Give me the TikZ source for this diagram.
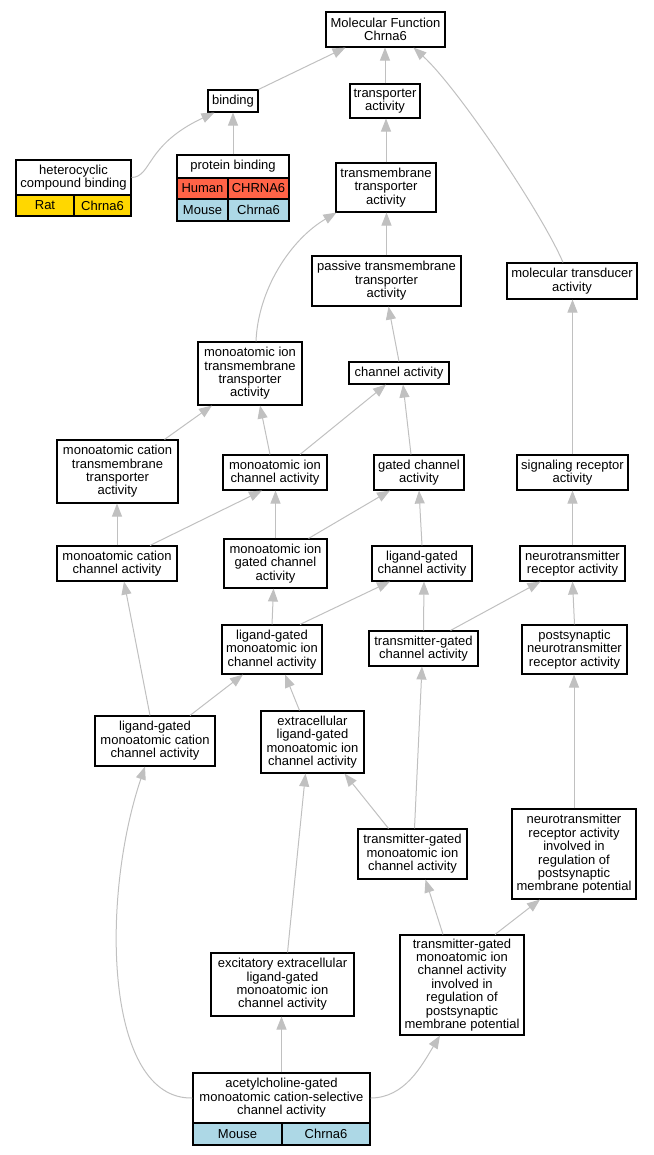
\documentclass[tikz,border=0pt]{standalone}
\usepackage{fontspec}
\setmainfont{Liberation Sans}
\usetikzlibrary{arrows.meta}
\definecolor{edgegray}{HTML}{C0C0C0}
\definecolor{tomatoc}{HTML}{FF6347}
\definecolor{lblue}{HTML}{ADD8E6}
\definecolor{goldc}{HTML}{FFD700}
\tikzset{
  box/.style={draw=black, line width=1.1pt, fill=white, align=center, inner sep=0pt,
    font=\fontsize{13}{13.4}\selectfont},
  cell/.style={box},
  edge/.style={draw=edgegray, line width=1pt, -{Triangle[length=13pt,width=10pt]}, edgegray},
}
\begin{document}
\begin{tikzpicture}[x=1pt,y=-1pt]
\useasboundingbox (0,0) rectangle (653,1155);
% nodes
\node[box, minimum width=119, minimum height=35] (mf) at (385.5,29.5) {Molecular Function\\Chrna6};
\node[box, minimum width=50, minimum height=22] (bind) at (233,101) {binding};
\node[box, minimum width=70, minimum height=34] (tra) at (385,101) {transporter\\activity};
% heterocyclic table
\node[box, minimum width=115, minimum height=35] (hc) at (73.5,177.5) {heterocyclic\\compound binding};
\node[cell, fill=goldc, minimum width=58, minimum height=21] (hcr1) at (45,205.5) {Rat};
\node[cell, fill=goldc, minimum width=57, minimum height=21] (hcr2) at (102.5,205.5) {Chrna6};
% protein binding table
\node[box, minimum width=112, minimum height=23] (pb) at (233,166.5) {protein binding};
\node[cell, fill=tomatoc, minimum width=51, minimum height=21] (pbh1) at (202.5,188.5) {Human};
\node[cell, fill=tomatoc, minimum width=61, minimum height=21] (pbh2) at (258.5,188.5) {CHRNA6};
\node[cell, fill=lblue, minimum width=51, minimum height=22] (pbm1) at (202.5,210) {Mouse};
\node[cell, fill=lblue, minimum width=61, minimum height=22] (pbm2) at (258.5,210) {Chrna6};
\node[box, minimum width=100, minimum height=49] (tmt) at (386,187.5) {transmembrane\\transporter\\activity};
\node[box, minimum width=149, minimum height=50] (ptt) at (386.5,281) {passive transmembrane\\transporter\\activity};
\node[box, minimum width=130, minimum height=36] (mtd) at (572,281) {molecular transducer\\activity};
\node[box, minimum width=104, minimum height=63] (mitt) at (250,373.5) {monoatomic ion\\transmembrane\\transporter\\activity};
\node[box, minimum width=100, minimum height=22] (ch) at (399,373) {channel activity};
\node[box, minimum width=121, minimum height=63] (mctt) at (117.5,471.5) {monoatomic cation\\transmembrane\\transporter\\activity};
\node[box, minimum width=104, minimum height=35] (mic) at (275,472.5) {monoatomic ion\\channel activity};
\node[box, minimum width=90, minimum height=35] (gc) at (419,472.5) {gated channel\\activity};
\node[box, minimum width=111, minimum height=35] (sr) at (572.5,472.5) {signaling receptor\\activity};
\node[box, minimum width=120, minimum height=35] (mcc) at (117,563.5) {monoatomic cation\\channel activity};
\node[box, minimum width=103, minimum height=49] (migc) at (275.5,563.5) {monoatomic ion\\gated channel\\activity};
\node[box, minimum width=100, minimum height=35] (lgc) at (422,563.5) {ligand-gated\\channel activity};
\node[box, minimum width=105, minimum height=35] (nr) at (572.5,563.5) {neurotransmitter\\receptor activity};
\node[box, minimum width=100, minimum height=49] (lgmic) at (272,649.5) {ligand-gated\\monoatomic ion\\channel activity};
\node[box, minimum width=109, minimum height=35] (tgc) at (423.5,648.5) {transmitter-gated\\channel activity};
\node[box, minimum width=105, minimum height=49] (pnr) at (574.5,649.5) {postsynaptic\\neurotransmitter\\receptor activity};
\node[box, minimum width=120, minimum height=50] (lgmcc) at (155,741) {ligand-gated\\monoatomic cation\\channel activity};
\node[box, minimum width=103, minimum height=62] (elgmic) at (312.5,742) {extracellular\\ligand-gated\\monoatomic ion\\channel activity};
\node[box, minimum width=109, minimum height=50] (tgmic) at (412.5,854) {transmitter-gated\\monoatomic ion\\channel activity};
\node[box, minimum width=124, minimum height=90] (nrinv) at (574,854) {neurotransmitter\\receptor activity\\involved in\\regulation of\\postsynaptic\\membrane potential};
\node[box, minimum width=143, minimum height=63] (exc) at (282.5,984.5) {excitatory extracellular\\ligand-gated\\monoatomic ion\\channel activity};
\node[box, minimum width=124, minimum height=100] (tginv) at (462,985) {transmitter-gated\\monoatomic ion\\channel activity\\involved in\\regulation of\\postsynaptic\\membrane potential};
% acetylcholine table
\node[box, minimum width=177, minimum height=50] (ach) at (281.5,1098) {acetylcholine-gated\\monoatomic cation-selective\\channel activity};
\node[cell, fill=lblue, minimum width=89, minimum height=22] (achr1) at (237.5,1134) {Mouse};
\node[cell, fill=lblue, minimum width=88, minimum height=22] (achr2) at (326,1134) {Chrna6};
% edges
\draw[edge] (bind.north east) -- ([xshift=-40]mf.south);
\draw[edge] (tra.north) -- (tra.north |- mf.south);
\draw[edge] ([xshift=-9]mtd.north) .. controls (543,215) and (458,88) .. ([xshift=28]mf.south);
\draw[edge] (hc.east) .. controls (152,177) and (145,145) .. ([xshift=7]bind.south west);
\draw[edge] (pb.north) -- (bind.south);
\draw[edge] (tmt.north) -- (tmt.north |- tra.south);
\draw[edge] (ptt.north) -- (ptt.north |- tmt.south);
\draw[edge] ([xshift=6]mitt.north) .. controls (258,290) and (290,240) .. ([xshift=1]tmt.south west);
\draw[edge] (ch.north) -- ([xshift=2]ptt.south);
\draw[edge] ([xshift=47]mctt.north) -- ([xshift=-38]mitt.south);
\draw[edge] ([xshift=-5]mic.north) -- ([xshift=10]mitt.south);
\draw[edge] ([xshift=25]mic.north) -- ([xshift=-13]ch.south);
\draw[edge] ([xshift=-8]gc.north) -- ([xshift=4]ch.south);
\draw[edge] (sr.north) -- (sr.north |- mtd.south);
\draw[edge] (mcc.north) -- (mcc.north |- mctt.south);
\draw[edge] ([xshift=33]mcc.north) -- ([xshift=-13]mic.south);
\draw[edge] (migc.north) -- (migc.north |- mic.south);
\draw[edge] ([xshift=33]migc.north) -- ([xshift=-29]gc.south);
\draw[edge] (lgc.north) -- (gc.south);
\draw[edge] (nr.north) -- (nr.north |- sr.south);
\draw[edge] (lgmic.north) -- ([xshift=-2]migc.south);
\draw[edge] ([xshift=28]lgmic.north) -- ([xshift=-32]lgc.south);
\draw[edge] (tgc.north) -- ([xshift=2]lgc.south);
\draw[edge] ([xshift=27]tgc.north) -- ([xshift=-32]nr.south);
\draw[edge] (pnr.north) -- (nr.south);
\draw[edge] ([xshift=-5]lgmcc.north) -- ([xshift=7]mcc.south);
\draw[edge] ([xshift=35]lgmcc.north) -- ([xshift=-29]lgmic.south);
\draw[edge] ([xshift=-13]elgmic.north) -- ([xshift=13]lgmic.south);
\draw[edge] ([xshift=-24]tgmic.north) -- ([xshift=32]elgmic.south);
\draw[edge] ([xshift=2]tgmic.north) -- ([xshift=-1.5]tgc.south);
\draw[edge] (nrinv.north) -- (nrinv.north |- pnr.south);
\draw[edge] ([xshift=-19]tginv.north) -- ([xshift=13]tgmic.south);
\draw[edge] ([xshift=33]tginv.north) -- ([xshift=-34]nrinv.south);
\draw[edge] ([xshift=5]exc.north) -- ([xshift=-7]elgmic.south);
\draw[edge] (ach.north) -- (ach.north |- exc.south);
\draw[edge] (ach.west) .. controls (105,1100) and (100,900) .. ([xshift=-10]lgmcc.south);
\draw[edge] (ach.east) .. controls (405,1098) and (422,1065) .. ([xshift=-22]tginv.south);
\end{tikzpicture}
\end{document}
